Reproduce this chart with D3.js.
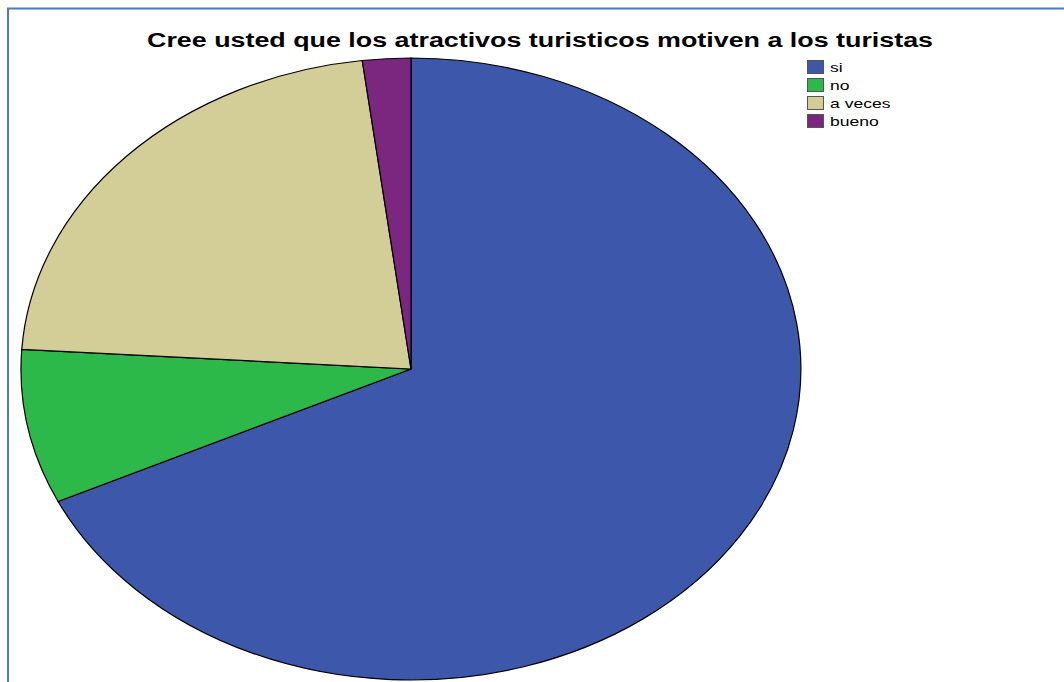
<!DOCTYPE html>
<html>
<head>
<meta charset="utf-8">
<script src="https://cdn.jsdelivr.net/npm/d3@7"></script>
<style>
  body { margin: 0; background: #fff; }
  text { font-family: "Liberation Sans", Arial, sans-serif; }
</style>
</head>
<body>
<div class="chart"></div>
<script>
var categories = ["si", "no", "a veces", "bueno"];
var counts = [34, 4, 11, 1];
var colors = ["#3d58ab", "#2db84a", "#d3ce98", "#7b2780"];

var title = "Cree usted que los atractivos turisticos motiven a los turistas";

var width = 1064, height = 682;
var stretch = 1.35; // the original output is widened horizontally

var svg = d3.select(".chart").append("svg")
    .attr("width", width)
    .attr("height", height);

// frame
svg.append("path")
    .attr("d", "M8," + height + " V8.5 H" + width)
    .attr("fill", "none")
    .attr("stroke", "#4a7ebb")
    .attr("stroke-width", 2);

svg.append("text")
    .attr("x", 147)
    .attr("y", 47)
    .attr("font-weight", "bold")
    .attr("font-size", 20)
    .attr("textLength", 786)
    .attr("lengthAdjust", "spacingAndGlyphs")
    .text(title);

var cx = 411, cy = 369, rx = 390, ry = 311;

var pie = d3.pie().sort(null);
var arc = d3.arc().innerRadius(0).outerRadius(1);

// draw unit circle pie and stretch it into an ellipse
var g = svg.append("g")
    .attr("transform", "translate(" + cx + "," + cy + ") scale(" + rx + "," + ry + ")");

g.selectAll("path")
    .data(pie(counts))
    .enter().append("path")
      .attr("d", arc)
      .attr("fill", function(d, i) { return colors[i]; })
      .attr("stroke", "#000")
      .attr("stroke-width", 1.2)
      .attr("vector-effect", "non-scaling-stroke");

// legend
var legend = svg.append("g")
    .attr("transform", "translate(807,60)");

var item = legend.selectAll("g")
    .data(categories)
    .enter().append("g")
      .attr("transform", function(d, i) { return "translate(0," + (i * 18) + ")"; });

item.append("rect")
    .attr("x", 0.5)
    .attr("y", 0.5)
    .attr("width", 16)
    .attr("height", 13)
    .attr("fill", function(d, i) { return colors[i]; })
    .attr("stroke", "#555");

item.append("text")
    .attr("transform", "translate(23,12) scale(" + stretch + ",1)")
    .attr("font-size", 13)
    .text(function(d) { return d; });
</script>
</body>
</html>
